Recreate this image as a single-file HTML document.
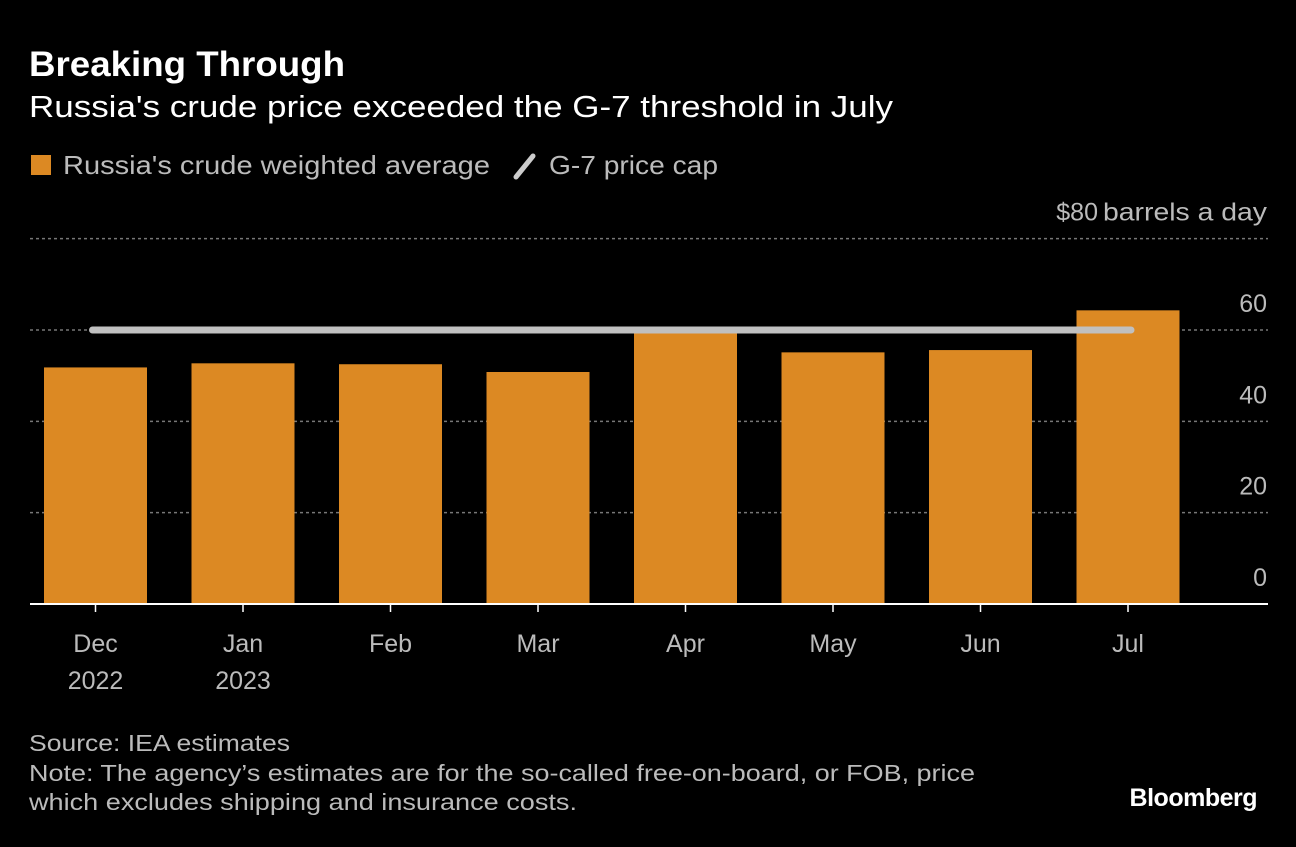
<!DOCTYPE html>
<html><head><meta charset="utf-8"><style>
body{margin:0;background:#000;width:1296px;height:842px;overflow:hidden;font-family:"Liberation Sans",sans-serif;color:#fff}
</style></head><body>
<svg width="1296" height="842" font-family="Liberation Sans, sans-serif">
<text x="29" y="76" font-size="35" font-weight="bold" fill="#fff" textLength="316" lengthAdjust="spacingAndGlyphs">Breaking Through</text>
<text x="29" y="117" font-size="31" fill="#fff" textLength="864" lengthAdjust="spacingAndGlyphs">Russia's crude price exceeded the G-7 threshold in July</text>
<g>
<rect x="31" y="155" width="20" height="20" fill="#dc8923"/>
<text x="63" y="174" font-size="26" fill="#bbb" textLength="427" lengthAdjust="spacingAndGlyphs">Russia's crude weighted average</text>
<line x1="516" y1="177" x2="533" y2="156" stroke="#ccc" stroke-width="5" stroke-linecap="round"/>
<text x="549" y="174" font-size="26" fill="#bbb" textLength="169" lengthAdjust="spacingAndGlyphs">G-7 price cap</text>
</g>
<g id="grid"></g><g id="bars"></g><g id="overlay"></g><g id="xaxis"></g>
<text x="29" y="751" font-size="23" fill="#bbb" textLength="261" lengthAdjust="spacingAndGlyphs">Source: IEA estimates</text>
<text x="29" y="781" font-size="23" fill="#bbb" textLength="946" lengthAdjust="spacingAndGlyphs">Note: The agency’s estimates are for the so-called free-on-board, or FOB, price</text>
<text x="29" y="810" font-size="23" fill="#bbb" textLength="548" lengthAdjust="spacingAndGlyphs">which excludes shipping and insurance costs.</text>
<text x="1257" y="806" font-size="25" font-weight="bold" fill="#fff" text-anchor="end" letter-spacing="-0.5">Bloomberg</text>
</svg>
<script>
const categories=["Dec","Jan","Feb","Mar","Apr","May","Jun","Jul"];
const years=["2022","2023","","","","","",""];
const values=[51.8,52.7,52.5,50.8,60.2,55.1,55.6,64.3];
const priceCap=[60];
const ticks=[0,20,40,60,80];
const NS="http://www.w3.org/2000/svg";
const y=v=>604-v*4.567;
const x=i=>95.5+i*147.5;
function mk(tag,attrs,parent){const e=document.createElementNS(NS,tag);for(const k in attrs)e.setAttribute(k,attrs[k]);document.getElementById(parent).appendChild(e);return e;}
ticks.forEach(t=>{
 if(t>0){const l=mk('line',{x1:30,x2:1268,y1:y(t),y2:y(t),stroke:'#777','stroke-width':1.5,'stroke-dasharray':'3 3'},'grid');
 
 }
 const tx=mk('text',{x:1267,y:y(t)-18,'font-size':25,fill:'#bbb','text-anchor':'end'},'grid');
 tx.textContent=t===80?'$80':String(t);
 
 
 if(t===80){const u=mk('text',{x:1103,y:y(t)-18,'font-size':25,fill:'#bbb',textLength:164,lengthAdjust:'spacingAndGlyphs'},'grid');
 u.textContent='barrels a day';tx.setAttribute('x',1098);
 
 }
});
values.forEach((v,i)=>{
 const r=mk('rect',{x:x(i)-51.5,y:y(v),width:103,height:604-y(v),fill:'#dc8923'},'bars');
 
 
});
const cap=mk('line',{x1:x(0)-3,x2:x(7)+3,y1:y(priceCap[0]),y2:y(priceCap[0]),stroke:'#c0c0c0','stroke-width':7,'stroke-linecap':'round'},'overlay');


const base=mk('line',{x1:30,x2:1268,y1:604,y2:604,stroke:'#fff','stroke-width':2},'xaxis');


categories.forEach((c,i)=>{
 const tk=mk('line',{x1:x(i),x2:x(i),y1:604,y2:612,stroke:'#fff','stroke-width':1.5},'xaxis');
 
 
 const t=mk('text',{x:x(i),y:652,'font-size':25,fill:'#bbb','text-anchor':'middle'},'xaxis');
 t.textContent=c;
 
 
 if(years[i]){const yt=mk('text',{x:x(i),y:689,'font-size':25,fill:'#bbb','text-anchor':'middle'},'xaxis');
 yt.textContent=years[i];
 
 }
});
</script>
</body></html>
